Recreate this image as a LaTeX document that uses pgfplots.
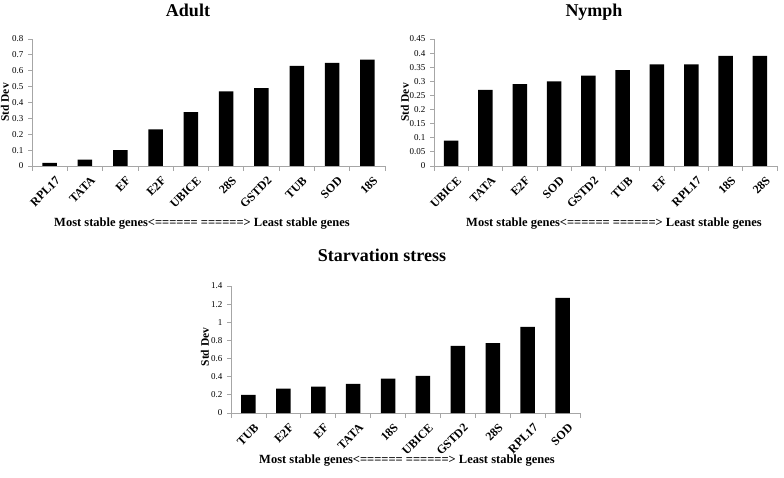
\documentclass[border=0pt]{standalone}
\usepackage{pgfplots}
\pgfplotsset{compat=1.18}
\usepackage{fontspec}
\setmainfont{Liberation Serif}

\pgfplotsset{
  gbar/.style={
    scale only axis, height=127pt,
    ybar, bar width=14.5pt, bar shift=0pt,
    xmin=-0.5, xmax=9.5, ymin=0,
    axis x line*=bottom, axis y line*=left,
    axis line style={draw=black!35, line width=0.8pt, -},
    xtick={0,...,9},
    minor xtick={-0.5,0.5,...,9.5},
    major x tick style={draw=none},
    minor x tick style={draw=black!35, line width=0.8pt},
    y tick style={draw=black!35, line width=0.8pt},
    tick align=outside,
    major tick length=4pt, minor tick length=5pt,
    /pgf/number format/assume math mode=true,
    /pgf/number format/fixed, /pgf/number format/precision=2,
    yticklabel style={font=\fontsize{9}{9}\selectfont, xshift=-1pt},
    xticklabel style={rotate=45, anchor=east, font=\bfseries\fontsize{12}{12}\selectfont, yshift=-12pt, xshift=3pt},
  }
}

\begin{document}
\begin{tikzpicture}[x=1pt,y=1pt]
\path[use as bounding box] (0,0) rectangle (784,477);

% Adult
\begin{axis}[gbar, width=353pt, at={(32pt,311pt)}, anchor=south west,
  ymax=0.8, ytick={0,0.1,...,0.8},
  xticklabels={RPL17,TATA,EF,E2F,UBICE,28S,GSTD2,TUB,SOD,18S}]
\addplot[fill=black, draw=none] coordinates {(0,0.02) (1,0.04) (2,0.10) (3,0.23) (4,0.34) (5,0.47) (6,0.49) (7,0.63) (8,0.65) (9,0.67)};
\end{axis}

% Nymph
\begin{axis}[gbar, width=343pt, at={(434pt,311pt)}, anchor=south west,
  ymax=0.45, ytick={0,0.05,...,0.45},
  xticklabels={UBICE,TATA,E2F,SOD,GSTD2,TUB,EF,RPL17,18S,28S}]
\addplot[fill=black, draw=none] coordinates {(0,0.09) (1,0.27) (2,0.29) (3,0.30) (4,0.32) (5,0.34) (6,0.36) (7,0.36) (8,0.39) (9,0.39)};
\end{axis}

% Starvation
\begin{axis}[gbar, width=349pt, at={(231pt,64pt)}, anchor=south west,
  ymax=1.4, ytick={0,0.2,...,1.4},
  xticklabels={TUB,E2F,EF,TATA,18S,UBICE,GSTD2,28S,RPL17,SOD}]
\addplot[fill=black, draw=none] coordinates {(0,0.20) (1,0.27) (2,0.29) (3,0.32) (4,0.38) (5,0.41) (6,0.74) (7,0.77) (8,0.95) (9,1.27)};
\end{axis}

% titles
\node[anchor=base, font=\bfseries\fontsize{18}{18}\selectfont] at (188,460) {Adult};
\node[anchor=base, font=\bfseries\fontsize{18}{18}\selectfont] at (594,460) {Nymph};
\node[anchor=base, font=\bfseries\fontsize{18}{18}\selectfont] at (382,215) {Starvation stress};
% y labels
\node[rotate=90, font=\bfseries\fontsize{11.5}{11.5}\selectfont] at (5,374.5) {Std Dev};
\node[rotate=90, font=\bfseries\fontsize{11.5}{11.5}\selectfont] at (405,374.5) {Std Dev};
\node[rotate=90, font=\bfseries\fontsize{11.5}{11.5}\selectfont] at (205,130) {Std Dev};
% x labels
\node[anchor=base, font=\bfseries\fontsize{12.5}{12.5}\selectfont] at (202,250) {Most stable genes<====== ======> Least stable genes};
\node[anchor=base, font=\bfseries\fontsize{12.5}{12.5}\selectfont] at (614,250) {Most stable genes<====== ======> Least stable genes};
\node[anchor=base, font=\bfseries\fontsize{12.5}{12.5}\selectfont] at (407,14) {Most stable genes<====== ======> Least stable genes};
\end{tikzpicture}
\end{document}
